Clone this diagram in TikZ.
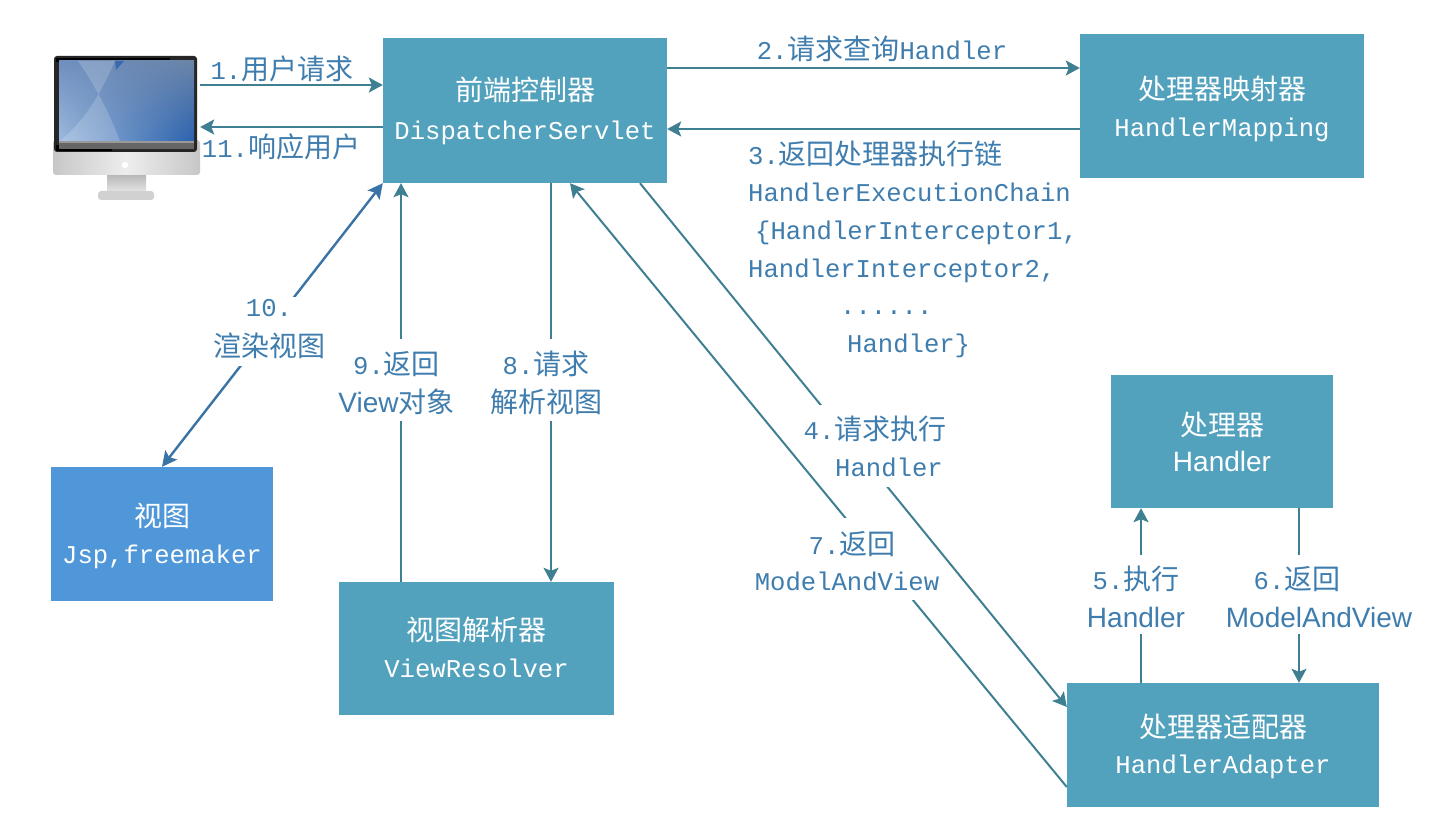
\documentclass[tikz,border=0pt]{standalone}
\usepackage{fontspec}
\usetikzlibrary{arrows.meta,shadings}
\newfontfamily\cjk{Noto Sans CJK SC}
\newfontfamily\mono{Liberation Mono}
\newfontfamily\arial{Liberation Sans}
\newcommand{\Z}[1]{{\fontsize{28}{38}\selectfont\cjk #1}}
\newcommand{\M}[1]{{\fontsize{25.6}{38}\selectfont\mono #1}}
\newcommand{\A}[1]{{\fontsize{28}{38}\selectfont\arial #1}}
% one line, baseline placed #1 below the node centre
\newcommand{\OneL}[2]{\raisebox{-#1pt}[0pt][0pt]{#2}}
% two lines: #1 offset of their mid baseline, #2 extra leading on 38pt
\newcommand{\TwoL}[4]{\raisebox{-#1pt}[0pt][0pt]{#3}\\[#2pt]\raisebox{-#1pt}[0pt][0pt]{#4}}
\definecolor{boxteal}{HTML}{52A1BD}
\definecolor{boxblue}{HTML}{4F97D8}
\definecolor{linkteal}{HTML}{3F7F92}
\definecolor{linkblue}{HTML}{3A74A6}
\definecolor{labelblue}{HTML}{3F7DAE}
\definecolor{scrA}{HTML}{9DB9DD}
\definecolor{scrB}{HTML}{6F8FBF}
\definecolor{scrC}{HTML}{6A84A8}
\definecolor{scrD}{HTML}{2A62AE}
\tikzset{
  box/.style={fill=boxteal,text=white,align=center,inner sep=0pt,anchor=center,font=\fontsize{28}{38}\selectfont},
  lab/.style={text=labelblue,align=center,inner sep=0pt,fill=white,anchor=center,font=\fontsize{28}{38}\selectfont},
  plainlab/.style={lab,fill=none},
  conn/.style={draw=linkteal,line width=2pt,-{Stealth[length=14pt,width=15pt,inset=3pt]}},
  bothconn/.style={draw=linkblue,line width=2.4pt,{Stealth[length=15pt,width=15pt,inset=3pt]}-{Stealth[length=15pt,width=15pt,inset=3pt]}},
}
\begin{document}
\begin{tikzpicture}[x=1pt,y=-1pt]
\useasboundingbox (0,0) rectangle (1430,818);
\fill[white] (0,0) rectangle (1430,818);
% monitor
\node[minimum width=147pt,minimum height=144pt,inner sep=0pt] (mon) at (126.5,128) {};
\shade[top color=black!28,bottom color=black!10] (107,175) rectangle (146,192);
\fill[black!18,rounded corners=3pt] (98,191) rectangle (154,200);
\shade[left color=black!22,right color=black!22,middle color=black!7,rounded corners=3pt] (53,140) rectangle (200,175);
\fill[black!85,rounded corners=3pt] (54,56) rectangle (197,152);
\fill[black] (56,58) rectangle (170,62);
\fill[black] (56,145) rectangle (112,151);
\begin{scope}
\clip (59,61) rectangle (194,141);
\shade[lower left=scrA,upper left=scrB,upper right=scrC,lower right=scrD] (59,61) rectangle (194,141);
\fill[white,opacity=.18] (78,61) .. controls (95,85) and (110,115) .. (120,141) -- (60,141) .. controls (85,120) and (100,95) .. (115,61) -- cycle;
\fill[scrD,opacity=.8] (115,61) -- (124,61) -- (116,70) -- cycle;
\end{scope}
\fill[black!60] (59,141) rectangle (194,149);
\fill[black!40] (59,141) rectangle (194,143);
\fill[white] (125,165) circle (3.2pt);
% boxes
\node[box,minimum width=284pt,minimum height=145pt] (front) at (525,110.5) {\TwoL{9.5}{0.4}{\Z{前端控制器}}{\M{DispatcherServlet}}};
\node[box,minimum width=284pt,minimum height=144pt] (mapping) at (1222,106) {\TwoL{12}{-1.5}{\Z{处理器映射器}}{\M{HandlerMapping}}};
\node[box,minimum width=222pt,minimum height=133pt] (handler) at (1222,441.5) {\TwoL{12}{-2.5}{\Z{处理器}}{\A{Handler}}};
\node[box,minimum width=312pt,minimum height=124pt] (adapter) at (1223,745) {\TwoL{10.3}{-2.6}{\Z{处理器适配器}}{\M{HandlerAdapter}}};
\node[box,fill=boxblue,minimum width=222pt,minimum height=134pt] (view) at (162,534) {\TwoL{11}{-1.6}{\Z{视图}}{\M{Jsp,freemaker}}};
\node[box,minimum width=275pt,minimum height=133pt] (resolver) at (476.5,648.5) {\TwoL{10.5}{-1.6}{\Z{视图解析器}}{\M{ViewResolver}}};
% connectors
\draw[conn] ([yshift=43pt]mon.east) -- ([yshift=25.5pt]front.west);
\draw[conn] ([yshift=-16.5pt]front.west) -- ([yshift=1pt]mon.east);
\draw[conn] ([yshift=42.5pt]front.east) -- ([yshift=38pt]mapping.west);
\draw[conn] ([yshift=-23pt]mapping.west) -- ([yshift=-18.5pt]front.east);
\draw[bothconn] (front.south west) -- (view.north);
\draw[conn] ([xshift=-75.5pt]resolver.north) -- ([xshift=-124pt]front.south);
\draw[conn] ([xshift=26pt]front.south) -- ([xshift=74.5pt]resolver.north);
\draw[conn] ([xshift=115pt]front.south) -- ([yshift=38pt]adapter.west);
\draw[conn] ([yshift=-42pt]adapter.west) -- ([xshift=45pt]front.south);
\draw[conn] ([xshift=-82pt]adapter.north) -- ([xshift=-81pt]handler.south);
\draw[conn] ([xshift=77pt]handler.south) -- ([xshift=76pt]adapter.north);
% labels
\node[plainlab] (l1) at (282,69) {\M{1.}\Z{用户请求}};
\node[plainlab] (l11) at (281,147) {\M{11.}\Z{响应用户}};
\node[plainlab] (l2) at (882,49) {\M{2.}\Z{请求查询}\M{Handler}};
\node[plainlab,anchor=north west,align=left,font=\fontsize{28}{37.6}\selectfont] (l3) at (748,140.5)
 {\M{3.}\Z{返回处理器执行链}\\
  \M{HandlerExecutionChain}\\
  \hspace*{7pt}\M{\{HandlerInterceptor1,}\\
  \M{HandlerInterceptor2,}\\
  \hspace*{92pt}\M{......}\\
  \hspace*{99pt}\M{Handler\}}};
\node[lab,minimum height=40pt] (l4a) at (875,425) {\OneL{14.6}{\M{4.}\Z{请求执行}}};
\node[lab,minimum height=42pt] (l4b) at (889,466) {\OneL{10}{\M{Handler}}};
\node[lab,minimum height=47pt] (l7a) at (852,541.5) {\OneL{13}{\M{7.}\Z{返回}}};
\node[lab,minimum height=35pt] (l7b) at (847,582.5) {\OneL{7.5}{\M{ModelAndView}}};
\node[lab,minimum height=79pt] (l5) at (1136,594.5) {\TwoL{13.8}{-0.6}{\M{5.}\Z{执行}}{\A{Handler}}};
\node[lab,minimum height=79pt] (l6) at (1319,594.5) {\TwoL{13.8}{-0.6}{\M{6.}\Z{返回}\hspace*{44pt}}{\A{ModelAndView}}};
\node[lab,minimum height=82pt] (l8) at (546,380) {\TwoL{13.6}{0}{\M{8.}\Z{请求}}{\Z{解析视图}}};
\node[lab,minimum height=82pt] (l9) at (396.5,380) {\TwoL{13.6}{0}{\M{9.}\Z{返回}}{\A{View}\Z{对象}}};
\node[lab,minimum height=69pt] (l10) at (269,331.5) {\TwoL{5}{2}{\M{10.}}{\Z{渲染视图}}};
\end{tikzpicture}
\end{document}
